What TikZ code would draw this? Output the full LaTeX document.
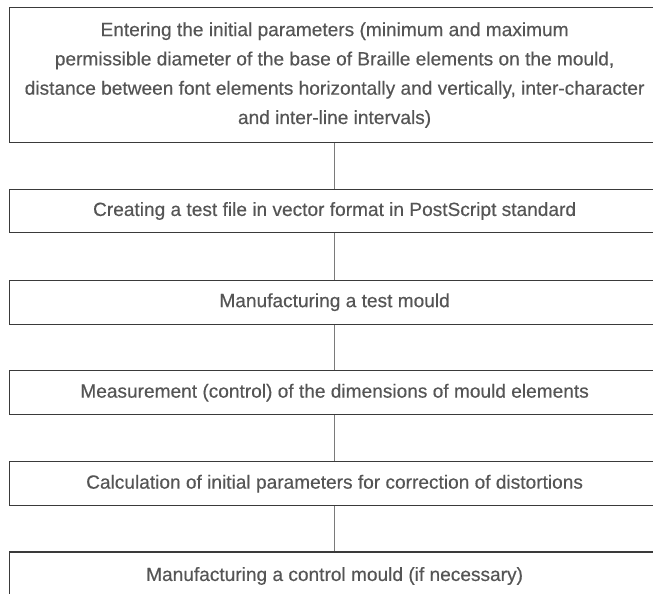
\documentclass[tikz,border=0pt]{standalone}
\usepackage{fontspec}
\setmainfont{Liberation Sans}[FakeBold=0.35]
\definecolor{txt}{HTML}{555555}
\definecolor{bord}{HTML}{3A3A3A}
\definecolor{conn}{HTML}{7A7A7A}
\begin{document}
\begin{tikzpicture}[x=1pt,y=-1pt,
  stepbox/.style={draw=bord,line width=1.1pt,minimum width=651pt,inner sep=0pt,
     text=txt,align=center,font=\fontsize{19.1}{29.3}\selectfont,anchor=center},
  link/.style={draw=conn,line width=0.9pt}]
\useasboundingbox (0,0) rectangle (653,594);
\clip (0,0) rectangle (653,594);
\fill[white] (0,0) rectangle (653,594);
\node[stepbox,minimum height=135pt] (b1) at (334.6,75.1)
  {Entering the initial parameters (minimum and maximum\\
   permissible diameter of the base of Braille elements on the mould,\\
   distance between font elements horizontally and vertically, inter-character\\
   and inter-line intervals)};
\node[stepbox,minimum height=43.4pt] (b2) at (334.6,211)
  {Creating a test file in vector format in PostScript standard};
\node[stepbox,minimum height=44.3pt] (b3) at (334.6,302.2)
  {Manufacturing a test mould};
\node[stepbox,minimum height=44pt] (b4) at (334.6,392.7)
  {Measurement (control) of the dimensions of mould elements};
\node[stepbox,minimum height=44pt] (b5) at (334.6,483.7)
  {Calculation of initial parameters for correction of distortions};
\node[stepbox,minimum height=48pt] (b6) at (334.6,576)
  {Manufacturing a control mould (if necessary)};
\draw[link] (b1.south) -- (b2.north);
\draw[link] (b2.south) -- (b3.north);
\draw[link] (b3.south) -- (b4.north);
\draw[link] (b4.south) -- (b5.north);
\draw[link] (b5.south) -- (b6.north);
\end{tikzpicture}
\end{document}
